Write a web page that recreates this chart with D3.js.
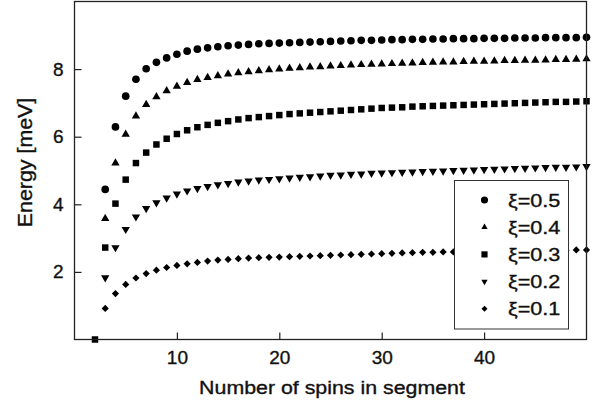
<!DOCTYPE html>
<html>
<head>
<meta charset="utf-8">
<script src="https://d3js.org/d3.v7.min.js"></script>
<style>
  body { margin: 0; background: #fff; }
  text { font-family: "Liberation Sans", Arial, Helvetica, sans-serif; fill: #111; stroke: #111; stroke-width: 0.35px; }
</style>
</head>
<body>
<div id="chart"></div>
<script>
// number of spins (x values)
var spins = [2, 3, 4, 5, 6, 7, 8, 9, 10, 11, 12, 13, 14, 15, 16, 17, 18, 19, 20, 21, 22, 23, 24, 25, 26,
             27, 28, 29, 30, 31, 32, 33, 34, 35, 36, 37, 38, 39, 40, 41, 42, 43, 44, 45, 46, 47, 48, 49, 50];

// energy [meV] per series, aligned with spins (null = no point)
var xi05 = [null, 4.44, 6.29, 7.20, 7.70, 8.01, 8.20, 8.33, 8.44, 8.53, 8.59, 8.63, 8.66, 8.69, 8.71, 8.73, 8.75,
            8.76, 8.77, 8.78, 8.79, 8.80, 8.81, 8.82, 8.83, 8.84, 8.85, 8.85, 8.86, 8.87, 8.87, 8.88, 8.88, 8.89,
            8.89, 8.90, 8.90, 8.90, 8.91, 8.91, 8.91, 8.92, 8.92, 8.92, 8.93, 8.93, 8.93, 8.93, 8.94];
var xi04 = [null, 3.58, 5.22, 6.07, 6.61, 6.95, 7.18, 7.36, 7.49, 7.60, 7.69, 7.75, 7.80, 7.85, 7.89, 7.92, 7.95,
            7.98, 8.00, 8.02, 8.04, 8.06, 8.07, 8.09, 8.10, 8.12, 8.13, 8.14, 8.15, 8.16, 8.17, 8.18, 8.19, 8.20,
            8.21, 8.21, 8.22, 8.23, 8.23, 8.24, 8.25, 8.25, 8.26, 8.26, 8.27, 8.28, 8.28, 8.29, 8.30];
var xi03 = [0, 2.72, 4.02, 4.73, 5.22, 5.53, 5.77, 5.94, 6.08, 6.19, 6.28, 6.35, 6.41, 6.46, 6.51, 6.55, 6.58,
            6.61, 6.64, 6.67, 6.69, 6.71, 6.73, 6.75, 6.77, 6.79, 6.81, 6.83, 6.85, 6.86, 6.87, 6.89, 6.90, 6.91,
            6.92, 6.93, 6.94, 6.95, 6.96, 6.97, 6.98, 6.99, 7.00, 7.01, 7.02, 7.03, 7.03, 7.04, 7.05];
var xi02 = [null, 1.83, 2.72, 3.26, 3.63, 3.88, 4.05, 4.19, 4.31, 4.40, 4.47, 4.53, 4.58, 4.62, 4.66, 4.69, 4.72,
            4.74, 4.76, 4.78, 4.80, 4.82, 4.84, 4.86, 4.87, 4.89, 4.90, 4.92, 4.93, 4.94, 4.95, 4.96, 4.97, 4.98,
            4.99, 5.00, 5.01, 5.02, 5.03, 5.04, 5.05, 5.06, 5.07, 5.08, 5.09, 5.10, 5.10, 5.11, 5.12];
var xi01 = [null, 0.92, 1.36, 1.63, 1.82, 1.95, 2.05, 2.13, 2.19, 2.24, 2.28, 2.32, 2.35, 2.37, 2.39, 2.41, 2.42,
            2.43, 2.44, 2.45, 2.46, 2.47, 2.48, 2.49, 2.50, 2.51, 2.52, 2.53, 2.54, 2.55, 2.56, 2.57, 2.58, 2.58,
            2.59, 2.59, 2.60, 2.60, 2.61, 2.61, 2.62, 2.62, 2.63, 2.63, 2.64, 2.64, 2.64, 2.65, 2.65];

var legendLabels = ["\u03BE=0.5", "\u03BE=0.4", "\u03BE=0.3", "\u03BE=0.2", "\u03BE=0.1"];
var xTicks = [10, 20, 30, 40];
var yTicks = [2, 4, 6, 8];

var width = 602, height = 406;
var margin = {top: 1.5, right: 15.5, bottom: 66.5, left: 74.5};

var svg = d3.select("#chart").append("svg")
    .attr("width", width)
    .attr("height", height);

var x = d3.scaleLinear().domain([0, 50]).range([margin.left, width - margin.right]);
var y = d3.scaleLinear().domain([0, 10]).range([height - margin.bottom, margin.top]);

// marker shapes
var shapes = [
  {type: d3.symbolCircle, size: 46, rot: 0, lsize: 40},
  {type: d3.symbolTriangle, size: 30, rot: 0, lsize: 17},
  {type: d3.symbolSquare, size: 42, rot: 0, lsize: 38},
  {type: d3.symbolTriangle, size: 30, rot: 180, lsize: 17},
  {type: d3.symbolSquare, size: 26, rot: 45, lsize: 18}
];
var series = [xi05, xi04, xi03, xi02, xi01];

var plot = svg.append("g");

series.forEach(function(vals, i) {
  var pts = spins.map(function(n, j) { return {n: n, v: vals[j]}; })
    .filter(function(d) { return d.v !== null; });
  plot.selectAll(".s" + i)
    .data(pts)
    .enter().append("path")
    .attr("class", "s" + i)
    .attr("d", d3.symbol().type(shapes[i].type).size(shapes[i].size))
    .attr("transform", function(d) {
      return "translate(" + x(d.n) + "," + y(d.v) + ") rotate(" + shapes[i].rot + ")";
    })
    .attr("fill", "#000");
});

// axes
var xAxis = d3.axisBottom(x).tickValues(xTicks).tickSize(-7).tickPadding(11).tickFormat(d3.format("d"));
var yAxis = d3.axisLeft(y).tickValues(yTicks).tickSize(-7).tickPadding(11).tickFormat(d3.format("d"));

var gx = svg.append("g").attr("transform", "translate(0," + y(0) + ")").call(xAxis);
var gy = svg.append("g").attr("transform", "translate(" + x(0) + ",0)").call(yAxis);
[gx, gy].forEach(function(g) {
  g.select(".domain").remove();
  g.selectAll("line").attr("stroke", "#222").attr("stroke-width", 1.2);
  g.selectAll("text").attr("font-size", 19).attr("fill", "#111")
    .style("font-family", "'Liberation Sans', Arial, sans-serif");
});

// frame
svg.append("rect")
  .attr("x", x(0)).attr("y", y(10))
  .attr("width", x(50) - x(0)).attr("height", y(0) - y(10))
  .attr("fill", "none").attr("stroke", "#222").attr("stroke-width", 1.3);

// titles (the scan is a little wider than tall, so stretch horizontally)
svg.append("text")
  .attr("transform", "translate(332,394) scale(1.155,1)")
  .attr("text-anchor", "middle")
  .attr("font-size", 18.5)
  .text("Number of spins in segment");

svg.append("text")
  .attr("transform", "translate(32,162.5) rotate(-90) scale(1.07,1)")
  .attr("text-anchor", "middle")
  .attr("font-size", 20)
  .text("Energy [meV]");

// legend
var legend = svg.append("g");
legend.append("rect")
  .attr("x", 454.5).attr("y", 180.5)
  .attr("width", 114).attr("height", 148.5)
  .attr("fill", "#fff").attr("stroke", "#333").attr("stroke-width", 1);

legendLabels.forEach(function(lab, i) {
  var cy = 200 + i * 27.2;
  legend.append("path")
    .attr("d", d3.symbol().type(shapes[i].type).size(shapes[i].lsize))
    .attr("transform", "translate(484.5," + cy + ") rotate(" + shapes[i].rot + ")")
    .attr("fill", "#000");
  legend.append("text")
    .attr("transform", "translate(508," + (cy + 6.6) + ") scale(1.17,1)")
    .attr("font-size", 18.5)
    .text(lab);
});
</script>
</body>
</html>
